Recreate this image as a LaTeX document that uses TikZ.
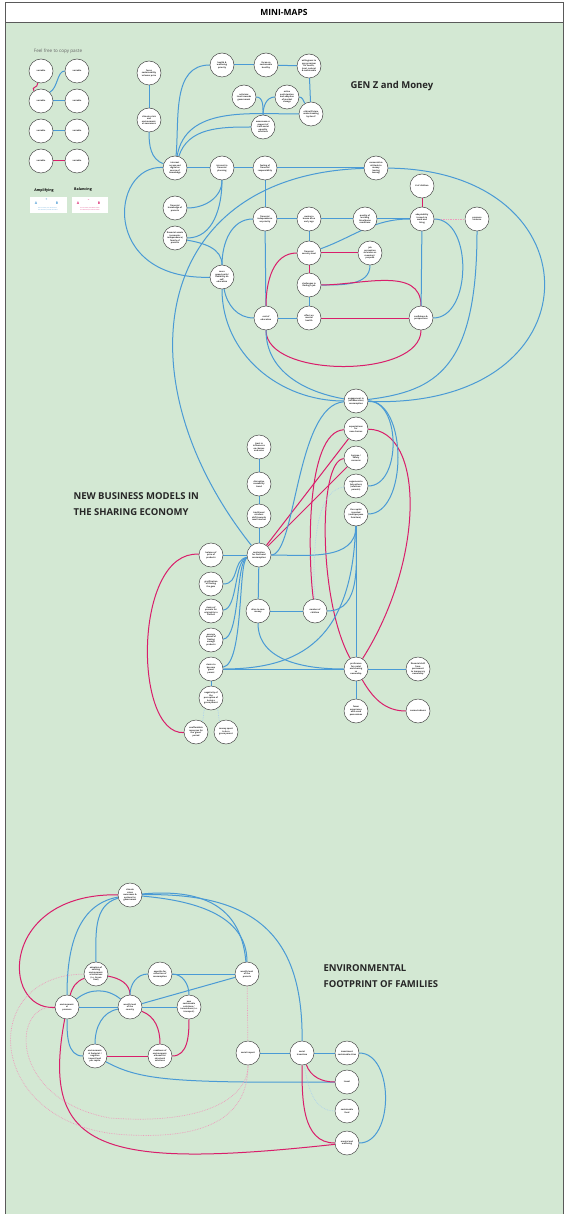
\documentclass[tikz,border=0pt]{standalone}
\usepackage{fontspec}
\setmainfont{Open Sans}
\definecolor{MapGreen}{HTML}{D3E8D3}
\definecolor{MapBlue}{HTML}{4A9AD5}
\definecolor{MapRed}{HTML}{D91E6B}
\definecolor{MapRing}{HTML}{4A4A4A}
\definecolor{MapFrame}{HTML}{5A5A5A}
\definecolor{MapInk}{HTML}{222222}
\pgfdeclarelayer{back}
\pgfdeclarelayer{edges}
\pgfsetlayers{back,edges,main}
\tikzset{
  var/.style={circle,draw=MapRing,fill=white,line width=.5pt,minimum size=24pt,inner sep=0pt,
    align=center,text=MapInk,font=\fontsize{2.1}{2.5}\selectfont\bfseries},
  amp/.style={MapBlue,line width=1pt},
  bal/.style={MapRed,line width=1pt},
  weakbal/.style={MapRed!45,line width=.7pt,densely dotted},
  weakamp/.style={MapBlue!45,line width=.7pt,densely dotted},
  maptitle/.style={anchor=west,align=left,text=black!85,font=\fontsize{9.5}{16}\selectfont\bfseries}
}

\begin{document}
\begin{tikzpicture}[x=1pt,y=1pt]
  \useasboundingbox (0,0) rectangle (588,-1214);
  \begin{pgfonlayer}{back}
    \fill[white] (0,0) rectangle (588,-1214);
    \fill[MapGreen] (5,-22) rectangle (563,-1214);
    \draw[MapFrame,line width=.8pt] (5,-1214) -- (5,-2) -- (563,-2) -- (563,-1214);
    \draw[MapFrame,line width=.8pt] (5,-22) -- (563,-22);
  \end{pgfonlayer}
  \node[font=\fontsize{8.5}{10}\selectfont\bfseries] (head) at (284,-12) {MINI-MAPS};

  % titles
  \node[maptitle] (genz) at (347,-86) {GEN Z and Money};
  \node[maptitle] (share) at (70,-504) {NEW BUSINESS MODELS IN\\THE SHARING ECONOMY};
  \node[maptitle] (foot) at (320,-976) {ENVIRONMENTAL\\FOOTPRINT OF FAMILIES};

  % copy-paste corner
  \node[text=black!60,font=\fontsize{4.6}{5}\selectfont] (copy) at (58,-51) {Feel free to copy paste};
  \foreach \row/\y in {1/-71,2/-101,3/-131,4/-161}{
    \node[var] (l\row a) at (41,\y) {variable};
    \node[var] (l\row b) at (77,\y) {variable};
  }
  \node[font=\fontsize{3.6}{4}\selectfont\bfseries] (amplab) at (44,-191) {Amplifying};
  \node[font=\fontsize{3.6}{4}\selectfont\bfseries] (ballab) at (83,-190) {Balancing};
  \fill[white] (30,-197) rectangle (67,-213);
  \fill[white] (72,-197) rectangle (108,-213);
  \node[text=MapBlue,font=\fontsize{3.4}{4}\selectfont\bfseries] (ampA) at (36,-203) {A};
  \node[text=MapBlue,font=\fontsize{3.4}{4}\selectfont\bfseries] (ampB) at (57,-203) {B};
  \node[text=MapRed,font=\fontsize{3.4}{4}\selectfont\bfseries] (balA) at (78,-203) {A};
  \node[text=MapRed,font=\fontsize{3.4}{4}\selectfont\bfseries] (balB) at (99,-203) {B};
  \node[text=MapBlue,font=\fontsize{3}{3}\selectfont\bfseries] (plus) at (46.5,-200) {+};
  \node[text=MapRed,font=\fontsize{3}{3}\selectfont\bfseries] (minus) at (88.5,-200) {--};
  \node[align=left,text=MapBlue,font=\fontsize{1.3}{1.7}\selectfont] (ampnote) at (48,-209) {If A increases, then B increases\\If A decreases, then B decreases};
  \node[align=left,text=MapRed,font=\fontsize{1.3}{1.7}\selectfont] (balnote) at (90,-209) {If A increases, then B decreases\\If A decreases, then B increases};

  % gen z and money
  \node[var] (fossil) at (149,-73) {focus\\sustainability\\vs lower price};
  \node[var] (crisis) at (149,-120) {climate crisis\\and\\environment-\\al awareness};
  \node[var] (health) at (222,-65) {health \&\\wellbeing\\priority};
  \node[var] (focus) at (266,-65) {focus on\\sustainable\\healthy};
  \node[var] (premium) at (309,-66) {willingness to\\pay premium\\for health,\\local, natural\\\& sustainable};
  \node[var] (activism) at (244,-97) {activism:\\trust towards\\government};
  \node[var] (active) at (287,-97) {active\\participation\\and adoption\\of market\\change};
  \node[var] (ethical) at (311,-114) {ethical/future\\understanding\\by Gen Z};
  \node[var] (aware) at (263,-127) {awareness or\\support of\\truth social\\equality\\solutions};
  \node[var] (internet) at (175,-168) {internet\\access and\\digital as\\source of\\knowledge};
  \node[var] (interest) at (222,-168) {interest in\\financial\\planning};
  \node[var] (feeling) at (265,-168) {feeling of\\financial\\responsibility};
  \node[var] (conserv) at (376,-168) {conservative\\attitude to\\money\\(saving\\money)};
  \node[var] (kids) at (422,-186) {\# of children};
  \node[var] (parentknow) at (175,-208) {financial\\knowledge of\\parents};
  \node[var] (assets) at (175,-238) {financial assets\\(economic\\independence)\\family of\\parents};
  \node[var] (indep) at (265,-219) {financial\\independence\\as priority};
  \node[var] (house) at (309,-219) {owning a\\house at an\\early age};
  \node[var] (quality) at (365,-219) {quality of\\working\\time/home\\conditions};
  \node[var] (adapt) at (422,-219) {adaptability\\to work in\\work and\\living};
  \node[var] (pressure) at (477,-219) {pressure\\violence};
  \node[var] (security) at (309,-253) {financial\\security level};
  \node[var] (jobview) at (370,-253) {job\\perception\\as leisure vs\\meaning /\\purpose};
  \node[var] (opport) at (222,-277) {more\\opportunity/\\flexibility on\\self-\\education};
  \node[var] (challenge) at (309,-285) {challenges in\\finding a job};
  \node[var] (cost) at (266,-318) {cost of\\education};
  \node[var] (mental) at (309,-318) {effect on\\mental\\health};
  \node[var] (confid) at (421,-318) {confidence \&\\perspectives};
  \node[var] (engage) at (356,-401) {engagement in\\(collaborative)\\consumption};

  % sharing economy
  \node[var] (expect) at (356,-429) {expectations\\for\\new choices};
  \node[var] (hygiene) at (356,-458) {hygiene /\\safety\\concerns};
  \node[var] (help) at (356,-486) {eagerness to\\help others\\(relatives /\\parents)};
  \node[var] (capital) at (356,-514) {the capital\\invested\\(multipurpose\\furniture)};
  \node[var] (trust) at (259,-447) {trust in\\influencers\\on choices\\and sales};
  \node[var] (disrupt) at (259,-484) {disruptive\\reusability\\trend};
  \node[var] (retail) at (259,-516) {traditional\\retailers\\shift towards\\resell market};
  \node[var] (motiv) at (259,-555) {motivation\\for 2nd-hand\\consumption};
  \node[var] (price) at (211,-555) {balance of\\price of\\products};
  \node[var] (gem) at (211,-584) {gratification\\of finding\\the gem};
  \node[var] (origin) at (211,-611) {desire of\\parents for\\originality in\\clothes};
  \node[var] (average) at (211,-640) {average\\phases of\\finding\\enough\\products};
  \node[var] (green) at (211,-669) {desire to\\become\\`green'\\parent};
  \node[var] (negat) at (211,-698) {negativity of\\the\\perception of\\being a\\green parent};
  \node[var] (unafford) at (196,-732) {unaffordable\\resources for\\the `green'\\period};
  \node[var] (spent) at (226,-732) {money spent\\to be a\\green parent};
  \node[var] (save) at (258,-611) {drive to save\\money};
  \node[var] (number) at (315,-611) {number of\\children};
  \node[var] (prefer) at (356,-669) {preference\\for rental\\and sharing\\vs\\ownership};
  \node[var] (shift) at (418,-669) {financial shift\\from\\permanent\\to temporary\\ownership};
  \node[var] (fewer) at (356,-711) {fewer\\experience\\with used\\possessions};
  \node[var] (connect) at (418,-711) {connectedness};

  % footprint of families
  \node[var] (climate) at (130,-895) {climate\\crises\\awareness \&\\options for\\government};
  \node[var] (adopt) at (96,-974) {adoption of\\existing\\environment-\\al initiatives\\(i.e. Green\\Deal)};
  \node[var] (appetite) at (160,-974) {appetite for\\reduction of\\consumption};
  \node[var] (parents) at (247,-974) {wealth level\\of the\\parents};
  \node[var] (envpress) at (67,-1007) {environment-\\al\\pressure};
  \node[var] (country) at (130,-1007) {wealth level\\of the\\country};
  \node[var] (newsol) at (189,-1007) {new\\sustainable\\solutions /\\innovations (i.e.\\transport)};
  \node[var] (footprint) at (95,-1056) {environment-\\al footprint /\\negative\\impact level\\per capita};
  \node[var] (ready) at (160,-1056) {readiness of\\environment-\\al benefits /\\structural\\solutions};
  \node[var] (social) at (248,-1053) {social impact};
  \node[var] (transit) at (302,-1053) {social\\transition};
  \node[var] (invest) at (347,-1053) {investment\\sustainable cities};
  \node[var] (travel) at (347,-1082) {travel};
  \node[var] (food) at (347,-1111) {sustainable\\food};
  \node[var] (wellb) at (347,-1143) {mental and\\wellbeing};

  \begin{pgfonlayer}{edges}
  % legend links
  \draw[bal] (l1a.255) .. controls +(0,-6) and +(-3,5) .. (l2a.125);
  \draw[amp] (l2a.45) .. controls (58,-88) and (57,-71) .. (l1b.west);
  \draw[amp] (l2a) -- (l2b);
  \draw[amp] (l3a) -- (l3b);
  \draw[bal] (l4a) -- (l4b);
  \draw[amp] (ampA) -- (ampB);
  \draw[bal] (balA) -- (balB);

  % gen z links
  \draw[amp] (fossil) -- (crisis);
  \draw[amp] (crisis) to[out=-90,in=160] (internet);
  \draw[amp] (internet) to[out=85,in=180] (health);
  \draw[amp] (internet) to[out=80,in=180] (ethical);
  \draw[amp] (internet) to[out=72,in=180] (aware);
  \draw[amp] (health) -- (focus);
  \draw[amp] (focus) -- (premium);
  \draw[amp] (premium) -- (ethical);
  \draw[amp] (activism) to[out=0,in=90] (aware);
  \draw[amp] (active) to[out=180,in=90] (aware);
  \draw[amp] (active) to[out=0,in=120] (ethical);
  \draw[amp] (internet) -- (interest);
  \draw[amp] (interest) -- (feeling);
  \draw[amp] (feeling) -- (conserv);
  \draw[amp] (interest) to[out=-90,in=0] (parentknow);
  \draw[amp] (interest) to[out=-90,in=0] (assets);
  \draw[amp] (assets) to[out=-10,in=90] (opport);
  \draw[amp] (feeling) -- (indep);
  \draw[amp] (indep) to[out=180,in=90] (opport);
  \draw[amp] (indep) -- (house);
  \draw[amp] (house) -- (quality);
  \draw[amp] (quality) -- (adapt);
  \draw[amp] (indep) -- (cost);
  \draw[amp] (house) -- (security);
  \draw[bal] (security) -- (jobview);
  \draw[amp] (security) to[out=20,in=180] (adapt);
  \draw[bal] (security) -- (challenge);
  \draw[bal] (security) to[out=180,in=90] (cost);
  \draw[amp] (jobview) to[out=-90,in=0] (challenge);
  \draw[bal] (challenge) to[out=0,in=90] (confid);
  \draw[amp] (challenge) -- (mental);
  \draw[amp] (cost) -- (mental);
  \draw[bal] (mental) -- (confid);
  \draw[bal] (cost) to[out=-90,in=-90,looseness=.8] (confid);
  \draw[amp] (adapt) -- (confid);
  \draw[bal] (kids) -- (adapt);
  \draw[weakbal] (adapt) -- (pressure);
  \draw[amp] (adapt) to[out=0,in=0] (confid);
  \draw[amp] (pressure) .. controls +(0,-150) and +(80,10) .. (engage);
  \draw[amp] (conserv) .. controls (600,-170) and (600,-410) .. (engage);
  \draw[amp] (conserv) .. controls (150,-175) and (120,-380) .. (motiv);
  \draw[amp] (internet) .. controls (110,-165) and (100,-280) .. (opport);
  \draw[amp] (opport) to[out=-80,in=180] (cost);
  \draw[amp] (opport) to[out=-90,in=180] (engage);
  \draw[amp] (cost) to[out=-90,in=170] (engage);

  % sharing economy links
  \draw[amp] (trust) -- (disrupt);
  \draw[amp] (disrupt) -- (retail);
  \draw[amp] (retail) -- (motiv);
  \draw[amp] (motiv) -- (save);
  \draw[amp] (price) -- (motiv);
  \draw[amp] (motiv) .. controls (232,-560) and (240,-584) .. (gem);
  \draw[amp] (motiv) .. controls (234,-560) and (238,-609) .. (origin);
  \draw[amp] (motiv) .. controls (236,-560) and (240,-638) .. (average);
  \draw[amp] (motiv) .. controls (238,-560) and (244,-664) .. (green);
  \draw[bal] (motiv) -- (expect);
  \draw[bal] (motiv) -- (hygiene);
  \draw[bal] (expect) .. controls (305,-432) and (308,-560) .. (number);
  \draw[bal] (hygiene) .. controls (318,-460) and (318,-600) .. (prefer);
  \draw[bal] (expect) .. controls (425,-430) and (425,-560) .. (prefer);
  \draw[amp] (engage) .. controls (296,-405) and (296,-555) .. (motiv);
  \draw[amp] (motiv) to[out=0,in=-90] (capital);
  \draw[amp] (engage) to[out=0,in=0] (help);
  \draw[amp] (engage) to[out=0,in=0,looseness=.9] (capital);
  \draw[weakamp] (help) .. controls (313,-490) and (313,-560) .. (number);
  \draw[amp] (save) -- (number);
  \draw[amp] (save) to[out=-90,in=180] (prefer);
  \draw[amp] (number) to[out=0,in=-90] (capital);
  \draw[amp] (capital) -- (prefer);
  \draw[amp] (green) .. controls (300,-669) and (352,-640) .. (capital);
  \draw[amp] (green) -- (prefer);
  \draw[amp] (prefer) -- (shift);
  \draw[amp] (prefer) -- (fewer);
  \draw[bal] (prefer) to[out=-60,in=180] (connect);
  \draw[amp] (green) -- (negat);
  \draw[weakamp] (negat) to[out=-120,in=60] (unafford);
  \draw[weakamp] (negat) to[out=-60,in=120] (spent);
  \draw[bal] (unafford) .. controls (133,-735) and (133,-550) .. (price);

  % footprint links
  \draw[bal] (climate) .. controls (0,-893) and (0,-1010) .. (envpress);
  \draw[amp] (climate) to[out=190,in=90] (envpress);
  \draw[amp] (climate) to[out=195,in=90] (adopt);
  \draw[amp] (climate) to[out=-5,in=90] (parents);
  \draw[amp] (climate) to[out=5,in=95,looseness=1.2] (parents);
  \draw[amp] (climate) .. controls (260,-892) and (303,-940) .. (transit);
  \draw[bal] (adopt) to[out=200,in=75] (envpress);
  \draw[bal] (adopt) to[out=-10,in=90] (country);
  \draw[amp] (envpress) to[out=40,in=140] (country);
  \draw[amp] (envpress) -- (country);
  \draw[amp] (country) -- (newsol);
  \draw[amp] (country) -- (parents);
  \draw[amp] (appetite) -- (parents);
  \draw[amp] (appetite) to[out=180,in=90] (country);
  \draw[amp] (appetite) to[out=0,in=90] (newsol);
  \draw[bal] (country) to[out=-20,in=90] (ready);
  \draw[bal] (newsol) to[out=-90,in=0] (ready);
  \draw[bal] (footprint) -- (ready);
  \draw[amp] (country) to[out=190,in=90] (footprint);
  \draw[amp] (envpress) to[out=-90,in=180] (footprint);
  \draw[amp] (footprint) .. controls (140,-1080) and (170,-1083) .. (travel);
  \draw[bal] (envpress) .. controls (40,-1150) and (100,-1170) .. (wellb);
  \draw[weakbal] (parents) -- (social);
  \draw[weakbal] (adopt) .. controls (-25,-975) and (-15,-1130) .. (130,-1135) .. controls (230,-1140) and (248,-1100) .. (social);
  \draw[weakbal] (envpress) .. controls (10,-1005) and (10,-1100) .. (110,-1118) .. controls (200,-1125) and (248,-1100) .. (social);
  \draw[amp] (social) -- (transit);
  \draw[amp] (transit) -- (invest);
  \draw[bal] (transit) to[out=-70,in=180] (travel);
  \draw[bal] (transit) to[out=-90,in=180] (wellb);
  \draw[weakamp] (transit) to[out=-80,in=180] (food);
  \draw[amp] (invest) to[out=0,in=0] (wellb);
  \end{pgfonlayer}
\end{tikzpicture}
\end{document}
